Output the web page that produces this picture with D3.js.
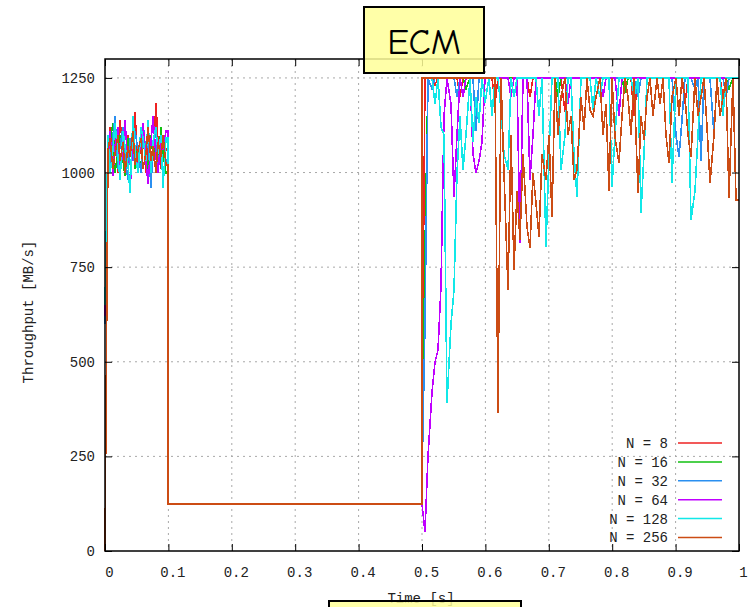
<!DOCTYPE html>
<html>
<head>
<meta charset="utf-8">
<script src="https://cdn.jsdelivr.net/npm/d3@7"></script>
<style>
body { margin: 0; background: #fff; }
.tick text, .lbl { font-family: "Liberation Mono", "DejaVu Sans Mono", monospace; font-size: 14px; fill: #222; }
.title { font-family: "Comic Sans MS", "Comic Neue", Lato, sans-serif; font-size: 36px; fill: #000; }
</style>
</head>
<body>
<div id="chart"></div>
<script>
const FRAME_WIDTH = 751;
const FRAME_HEIGHT = 607;
const MARGINS = {left: 105, right: 12, top: 59, bottom: 56};

const PLOT_RIGHT = FRAME_WIDTH - MARGINS.right;
const PLOT_BOTTOM = FRAME_HEIGHT - MARGINS.bottom;

// legend labels + colours, drawn in this order (N = 256 ends up on top)
const SERIES_LABELS = ["N = 8", "N = 16", "N = 32", "N = 64", "N = 128", "N = 256"];
const SERIES_COLORS = ["#ee2222", "#11c011", "#2a8ff0", "#c000ff", "#11e8e8", "#cc4c14"];

// axis ticks
const X_TICKS = [0, 0.1, 0.2, 0.3, 0.4, 0.5, 0.6, 0.7, 0.8, 0.9, 1];
const Y_TICKS = [0, 250, 500, 750, 1000, 1250];

// sample times: burst phase every 4 ms, recovery phase every 5 ms
const BURST_TIMES = d3.range(25).map(i => i * 0.004);
const DROP_TIME = 0.1;
const RISE_TIME = 0.5;
const FLAT_VALUE = 125;   // throttled rate between 0.1 s and 0.5 s
const RECOVERY_TIMES = d3.range(101).map(i => 0.5 + i * 0.005);

// throughput [MB/s] during the first burst (t = 0 .. 0.096)
const BURST_8   = [610, 1050, 1120, 1020, 1090, 1000, 1140, 1060, 1010, 1100, 1040, 1080, 1160, 1020, 1070, 1110, 1000, 1090, 1050, 1030, 1185, 1080, 1010, 1100, 1060];
const BURST_16  = [640, 1010, 1080, 1130, 1000, 1060, 1100, 1030, 990, 1090, 1050, 1120, 1010, 1070, 1000, 1110, 1060, 980, 1100, 1040, 1080, 1020, 1120, 1050, 1000];
const BURST_32  = [600, 1080, 1020, 1100, 1150, 1010, 1070, 1120, 1040, 980, 1090, 1030, 1110, 1060, 1000, 1130, 1050, 1090, 960, 1070, 1110, 1020, 1080, 1100, 1030];
const BURST_64  = [620, 1030, 1110, 990, 1070, 1120, 1000, 1060, 1140, 1020, 950, 1090, 1050, 1010, 1100, 1130, 1030, 970, 1080, 1150, 1040, 1000, 1090, 1060, 1110];
const BURST_128 = [650, 1100, 1000, 1060, 1130, 1040, 980, 1110, 1070, 1020, 945, 1150, 1060, 1000, 1120, 1090, 1030, 1140, 1000, 1080, 1120, 1050, 1100, 960, 1090];
const BURST_256 = [0, 1060, 1090, 1010, 1050, 1100, 1030, 1080, 1000, 1070, 1040, 1110, 1020, 1060, 1090, 1010, 1050, 1120, 1030, 1070, 1000, 1080, 1040, 1100, 1020];

// throughput [MB/s] after the throttle is lifted (t = 0.5 .. 1.0)
const RECOVERY_8 = [
	340, 1250, 1250, 1250, 1230, 1250, 1250, 1250, 1250, 1250,
	1250, 1250, 1200, 1250, 1250, 1250, 1250, 1250, 1250, 1250,
	1250, 1250, 1250, 1180, 1250, 1250, 1250, 1250, 1250, 1250,
	1250, 1250, 1250, 1250, 1200, 1250, 1250, 1250, 1250, 1250,
	1250, 1250, 1250, 1250, 1250, 1160, 1250, 1250, 1250, 1250,
	1250, 1250, 1250, 1250, 1250, 1250, 1200, 1250, 1250, 1250,
	1250, 1250, 1250, 1250, 1250, 1250, 1250, 1150, 1250, 1250,
	1250, 1250, 1250, 1250, 1250, 1250, 1250, 1250, 1250, 1250,
	1250, 1250, 1250, 1180, 1250, 1250, 1250, 1250, 1250, 1250,
	1250, 1250, 1250, 1250, 1250, 1200, 1250, 1250, 1250, 1250,
	1250];
const RECOVERY_16 = [
	220, 800, 1250, 1250, 1250, 1250, 1250, 1250, 1250, 1250,
	1250, 1250, 1250, 1250, 1220, 1250, 1250, 1250, 1250, 1250,
	1250, 1250, 1250, 1250, 1250, 1250, 1250, 1250, 1250, 1200,
	1250, 1250, 1250, 1250, 1250, 1250, 1250, 1250, 1250, 1250,
	1250, 1250, 1250, 1200, 1250, 1250, 1250, 1250, 1250, 1250,
	1250, 1250, 1250, 1250, 1250, 1250, 1250, 1250, 1250, 1250,
	1250, 1250, 1250, 1250, 1210, 1250, 1250, 1250, 1250, 1250,
	1250, 1250, 1250, 1250, 1250, 1250, 1250, 1250, 1250, 1250,
	1250, 1250, 1250, 1250, 1250, 1250, 1250, 1250, 1250, 1250,
	1250, 1250, 1250, 1250, 1250, 1250, 1250, 1220, 1250, 1250,
	1250];
const RECOVERY_32 = [
	190, 600, 1250, 1220, 1250, 1250, 1250, 1250, 1250, 1250,
	1250, 1200, 1250, 1250, 1250, 1250, 1250, 1110, 1250, 1250,
	1250, 1250, 1250, 1250, 1250, 1250, 1250, 1250, 1200, 1250,
	1250, 1250, 1250, 1250, 1250, 1250, 1250, 1250, 1250, 1250,
	1250, 1250, 1250, 1250, 1250, 1250, 1250, 1250, 1250, 1250,
	1250, 1250, 1250, 1250, 1250, 1250, 1250, 1250, 1250, 1250,
	1250, 1250, 1250, 1250, 1250, 1250, 1250, 1250, 1200, 1250,
	1250, 1250, 1250, 1250, 1250, 1250, 1250, 1250, 1250, 1250,
	1100, 1040, 1140, 1250, 1250, 1250, 1220, 1250, 1030, 1250,
	1250, 1250, 1100, 1250, 1250, 1250, 1200, 1250, 1250, 1250,
	1250];
const RECOVERY_64 = [
	125, 50, 250, 420, 500, 530, 700, 1150, 1250, 1180,
	935, 1100, 1250, 1200, 1250, 1250, 1050, 1000, 1030, 1080,
	1250, 1250, 1250, 1250, 1250, 1250, 1250, 1250, 1200, 1250,
	1250, 814, 1250, 1250, 980, 1100, 1250, 1250, 1250, 1250,
	1250, 1250, 1250, 1250, 1250, 1250, 1180, 1250, 1250, 1250,
	1250, 1250, 1250, 1250, 1250, 1250, 1250, 1200, 1250, 1250,
	1250, 1250, 1150, 1250, 1250, 1250, 1250, 1250, 1250, 1250,
	1250, 1250, 1250, 1250, 1250, 1250, 1250, 1250, 1250, 1250,
	1250, 1250, 1250, 1250, 1250, 1250, 1250, 1250, 1250, 1250,
	1250, 1250, 1250, 1250, 1250, 1250, 1250, 1250, 1250, 1250,
	1250];
const RECOVERY_128 = [
	1250, 1250, 1250, 1250, 1180, 1250, 1120, 1100, 390, 600,
	690, 1000, 1150, 1007, 1100, 1250, 1080, 1200, 1130, 1250,
	1183, 1250, 1150, 1250, 1250, 1165, 1050, 1007, 1250, 1200,
	1250, 1250, 1250, 1250, 1250, 1250, 1250, 1150, 1250, 803,
	1050, 1250, 1250, 1250, 1007, 1100, 1250, 1250, 1050, 935,
	1250, 1250, 1250, 1250, 1165, 1250, 1200, 1250, 1250, 1250,
	962, 1100, 1250, 1250, 1250, 1250, 1250, 1200, 1250, 893,
	1050, 1250, 1250, 1250, 1250, 1250, 1250, 1250, 1250, 972,
	1250, 1250, 1250, 1250, 1250, 875, 950, 1100, 1250, 1250,
	1250, 1250, 1250, 1250, 1250, 1150, 1250, 1250, 1250, 1250,
	1250];
const RECOVERY_256 = [
	1250, 1250, 1250, 1250, 1250, 1250, 1250, 1250, 1250, 1250,
	1250, 1250, 1250, 1250, 1250, 1250, 1250, 1250, 1250, 1250,
	1250, 1250, 1250, 1250, 365, 1250, 1000, 690, 1100, 743,
	950, 822, 1050, 856, 800, 1000, 920, 830, 1050, 980,
	1100, 883, 1250, 1100, 1200, 1250, 1100, 1150, 980, 1007,
	1200, 1112, 1250, 1165, 1150, 1200, 1250, 1100, 1180, 950,
	1250, 1095, 1025, 1150, 1250, 1200, 1100, 1250, 946, 1150,
	1086, 1200, 1250, 1150, 1250, 1180, 1250, 1100, 1025, 1200,
	1250, 1150, 1250, 1200, 1100, 1040, 1250, 1150, 1200, 1250,
	1120, 972, 1100, 1250, 1150, 1200, 1250, 933, 1250, 927,
	927];

const BURSTS = [BURST_8, BURST_16, BURST_32, BURST_64, BURST_128, BURST_256];
const RECOVERIES = [RECOVERY_8, RECOVERY_16, RECOVERY_32, RECOVERY_64, RECOVERY_128, RECOVERY_256];

//frame for the whole chart
const FRAME = d3.select("#chart")
				.append("svg")
					.attr("width", FRAME_WIDTH)
					.attr("height", FRAME_HEIGHT);

//scales
const X_SCALE = d3.scaleLinear()
				.domain([0, 1])
				.range([MARGINS.left, PLOT_RIGHT]);

const Y_SCALE = d3.scaleLinear()
				.domain([0, 1300])
				.range([PLOT_BOTTOM, MARGINS.top]);

//dotted grid
FRAME.append("g")
	.selectAll("line")
	.data(X_TICKS.slice(1, -1))
	.enter()
	.append("line")
		.attr("x1", d => X_SCALE(d)).attr("x2", d => X_SCALE(d))
		.attr("y1", MARGINS.top).attr("y2", PLOT_BOTTOM)
		.attr("stroke", "#a8a8a8").attr("stroke-dasharray", "2,4");

FRAME.append("g")
	.selectAll("line")
	.data(Y_TICKS.slice(1))
	.enter()
	.append("line")
		.attr("x1", MARGINS.left).attr("x2", PLOT_RIGHT)
		.attr("y1", d => Y_SCALE(d)).attr("y2", d => Y_SCALE(d))
		.attr("stroke", "#a8a8a8").attr("stroke-dasharray", "2,4");

//build one series: burst, vertical drop to the throttled rate, flat, then recovery
function buildSeries(burst, recovery) {
	let pts = burst.map((v, i) => ({t: BURST_TIMES[i], v: v}));
	pts.push({t: DROP_TIME, v: burst[burst.length - 1]});
	pts.push({t: DROP_TIME, v: FLAT_VALUE});
	pts.push({t: RISE_TIME, v: FLAT_VALUE});
	recovery.forEach((v, i) => pts.push({t: RECOVERY_TIMES[i], v: v}));
	return pts;
}

//snap to whole pixels; crisp strokes so the top line hides the ones below
const LINE = d3.line()
			.x(d => Math.round(X_SCALE(d.t)))
			.y(d => Math.round(Y_SCALE(d.v)));

FRAME.append("g")
	.selectAll("path")
	.data(SERIES_LABELS.map((label, i) => buildSeries(BURSTS[i], RECOVERIES[i])))
	.enter()
	.append("path")
		.attr("d", d => LINE(d))
		.attr("fill", "none")
		.attr("stroke", (d, i) => SERIES_COLORS[i])
		.attr("stroke-width", 1.6)
		.attr("shape-rendering", "crispEdges")
		.attr("stroke-linejoin", "miter");

//axes, ticks pointing into the plot (mirrored like gnuplot)
const xBottom = FRAME.append("g")
	.attr("transform", "translate(0," + PLOT_BOTTOM + ")")
	.call(d3.axisBottom(X_SCALE).tickValues(X_TICKS).tickSize(-7).tickPadding(16).tickFormat(d => String(d)));
xBottom.selectAll("text").attr("dx", 4);

FRAME.append("g")
	.attr("transform", "translate(0," + MARGINS.top + ")")
	.call(d3.axisTop(X_SCALE).tickValues(X_TICKS).tickSize(-7).tickFormat(""));

FRAME.append("g")
	.attr("transform", "translate(" + MARGINS.left + ",0)")
	.call(d3.axisLeft(Y_SCALE).tickValues(Y_TICKS).tickSize(-7).tickPadding(10).tickFormat(d => String(d)));

FRAME.append("g")
	.attr("transform", "translate(" + PLOT_RIGHT + ",0)")
	.call(d3.axisRight(Y_SCALE).tickValues(Y_TICKS).tickSize(-7).tickFormat(""));

FRAME.selectAll(".domain").remove();
FRAME.selectAll(".tick line").attr("stroke", "#000");

//plot border
FRAME.append("rect")
	.attr("x", MARGINS.left)
	.attr("y", MARGINS.top)
	.attr("width", PLOT_RIGHT - MARGINS.left)
	.attr("height", PLOT_BOTTOM - MARGINS.top)
	.attr("fill", "none")
	.attr("stroke", "#000")
	.attr("stroke-width", 1.5);

//axis titles
FRAME.append("text")
	.attr("class", "lbl")
	.attr("transform", "translate(33,312) rotate(-90)")
	.attr("text-anchor", "middle")
	.text("Throughput [MB/s]");

FRAME.append("text")
	.attr("class", "lbl")
	.attr("x", 421)
	.attr("y", 603)
	.attr("text-anchor", "middle")
	.text("Time [s]");

//legend
const LEGEND = FRAME.append("g");
SERIES_LABELS.forEach((label, i) => {
	let y = 443 + i * 18.9;
	LEGEND.append("text")
		.attr("class", "lbl")
		.attr("x", 668)
		.attr("y", y)
		.attr("dy", "0.35em")
		.attr("text-anchor", "end")
		.style("white-space", "pre")
		.text(label);
	LEGEND.append("line")
		.attr("x1", 678).attr("x2", 722)
		.attr("y1", y).attr("y2", y)
		.attr("stroke", SERIES_COLORS[i])
		.attr("stroke-width", 1.5);
});

//yellow title box (slightly see-through) and the one cut off at the bottom
FRAME.append("rect")
	.attr("x", 364).attr("y", 7)
	.attr("width", 120).attr("height", 66)
	.attr("fill", "#ffff99").attr("fill-opacity", 0.85)
	.attr("stroke", "#000").attr("stroke-width", 2);

FRAME.append("text")
	.attr("class", "title")
	.attr("x", 424)
	.attr("y", 54)
	.attr("text-anchor", "middle")
	.text("ECM");

FRAME.append("rect")
	.attr("x", 329).attr("y", 601)
	.attr("width", 192).attr("height", 20)
	.attr("fill", "#ffff99").attr("fill-opacity", 0.85)
	.attr("stroke", "#000").attr("stroke-width", 2);
</script>
</body>
</html>
